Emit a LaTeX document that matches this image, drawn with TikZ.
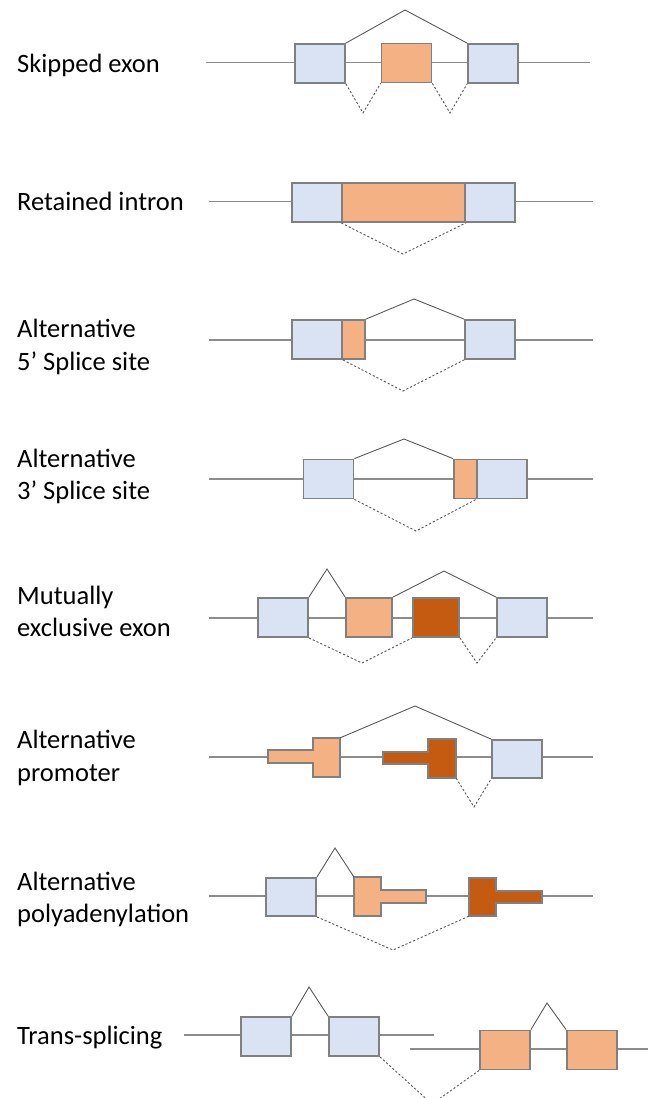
\documentclass[tikz,border=0pt]{standalone}
\usepackage{fontspec}
\setmainfont{Carlito}
\begin{document}
\begin{tikzpicture}[x=1pt,y=-1pt,
  label/.style={anchor=base west,inner sep=0pt,font=\fontsize{26.5}{32}\selectfont},
  exon/.style={draw=exonedge,line width=1.8pt,minimum width=50pt,minimum height=39pt,inner sep=0pt,anchor=center},
  constexon/.style={exon,fill=constblue},
  altexon/.style={exon,fill=altorange},
  altexondark/.style={exon,fill=altdark},
  intron/.style={draw=intronline,line width=1.3pt},
  incl/.style={draw=joinline,line width=0.9pt},
  excl/.style={draw=joinline,line width=0.9pt,dash pattern=on 2.2pt off 2pt},
  tshape/.style={draw=exonedge,line width=1.8pt,line join=miter},
  anchorbox/.style={draw=none,fill=none,inner sep=0pt,anchor=center}
]
\definecolor{constblue}{HTML}{DAE3F3}
\definecolor{altorange}{HTML}{F4B183}
\definecolor{altdark}{HTML}{C55A11}
\definecolor{exonedge}{HTML}{808080}
\definecolor{intronline}{HTML}{8C8C8C}
\definecolor{joinline}{HTML}{595959}

\useasboundingbox (0,0) rectangle (648,1098);
\clip (0,0) rectangle (648,1098);

% ---------- labels ----------
\node[label] (lskip) at (17,72) {Skipped exon};
\node[label] (lret) at (17,210) {Retained intron};
\node[label] (lfiveA) at (17,337) {Alternative};
\node[label] (lfiveB) at (17,370) {5’ Splice site};
\node[label] (lthreeA) at (17,467) {Alternative};
\node[label] (lthreeB) at (17,499) {3’ Splice site};
\node[label] (lmutA) at (17,604) {Mutually};
\node[label] (lmutB) at (17,636) {exclusive exon};
\node[label] (lpromA) at (17,748) {Alternative};
\node[label] (lpromB) at (17,781) {promoter};
\node[label] (lpolyA) at (17,890) {Alternative};
\node[label] (lpolyB) at (17,922) {polyadenylation};
\node[label] (ltrans) at (17,1044) {Trans-splicing};

% ---------- skipped exon ----------
\coordinate (s0) at (206,62.5);
\coordinate (s9) at (590,62.5);
\draw[intron] (s0) -- (s9);
\node[constexon] (s1) at (320,63.5) {};
\node[altexon] (s2) at (406.5,63) {};
\node[constexon] (s3) at (493,63.5) {};
\coordinate (sp) at (405,10);
\coordinate (sv1) at (363,113);
\coordinate (sv2) at (450,113);
\draw[incl] (s1.north east) -- (sp) -- (s3.north west);
\draw[excl] (s1.south east) -- (sv1) -- (s2.south west);
\draw[excl] (s2.south east) -- (sv2) -- (s3.south west);

% ---------- retained intron ----------
\coordinate (r0) at (209,201.5);
\coordinate (r9) at (593,201.5);
\draw[intron] (r0) -- (r9);
\node[constexon] (r1) at (317,202.5) {};
\node[altexon,minimum width=123pt] (r2) at (403.5,202.5) {};
\node[constexon] (r3) at (490,202.5) {};
\coordinate (rv) at (403,254);
\draw[excl] (r2.south west) -- (rv) -- (r2.south east);

% ---------- alternative 5' splice site ----------
\coordinate (a0) at (209,340);
\coordinate (a9) at (593,340);
\draw[intron] (a0) -- (a9);
\node[constexon] (a1) at (317,339.5) {};
\node[altexon,minimum width=23pt] (a2) at (353.5,339.5) {};
\node[constexon] (a3) at (490,339.5) {};
\coordinate (ap) at (414,299);
\coordinate (av) at (403,391);
\draw[incl] (a2.north east) -- (ap) -- (a3.north west);
\draw[excl] (a1.south east) -- (av) -- (a3.south west);

% ---------- alternative 3' splice site ----------
\coordinate (b0) at (209,479);
\coordinate (b9) at (593,479);
\draw[intron] (b0) -- (b9);
\node[constexon] (b1) at (328.5,479) {};
\node[altexon,minimum width=23pt] (b2) at (465.5,479) {};
\node[constexon] (b3) at (502,479) {};
\coordinate (bp) at (404,439);
\coordinate (bv) at (416,531);
\draw[incl] (b1.north east) -- (bp) -- (b2.north west);
\draw[excl] (b1.south east) -- (bv) -- (b3.south west);

% ---------- mutually exclusive exon ----------
\coordinate (m0) at (209,618);
\coordinate (m9) at (593,618);
\draw[intron] (m0) -- (m9);
\node[constexon] (m1) at (283,617.5) {};
\node[altexon,minimum width=46pt] (m2) at (369,617.5) {};
\node[altexondark,minimum width=46pt] (m3) at (436,617.5) {};
\node[constexon] (m4) at (522,617.5) {};
\coordinate (mp1) at (327,569);
\coordinate (mp2) at (444,571);
\coordinate (mv1) at (362,663);
\coordinate (mv2) at (477,663);
\draw[incl] (m1.north east) -- (mp1) -- (m2.north west);
\draw[incl] (m2.north east) -- (mp2) -- (m4.north west);
\draw[excl] (m1.south east) -- (mv1) -- (m3.south west);
\draw[excl] (m3.south east) -- (mv2) -- (m4.south west);

% ---------- alternative promoter ----------
\coordinate (p0) at (209,757);
\coordinate (p9) at (593,757);
\draw[intron] (p0) -- (p9);
\draw[tshape,fill=altorange] (268,750) -- (313,750) -- (313,738) -- (340,738)
  -- (340,777) -- (313,777) -- (313,763) -- (268,763) -- cycle;
\node[anchorbox,minimum width=27pt,minimum height=39pt] (p1) at (326.5,757.5) {};
\draw[tshape,fill=altdark] (383,752) -- (428,752) -- (428,739) -- (456,739)
  -- (456,778) -- (428,778) -- (428,764) -- (383,764) -- cycle;
\node[anchorbox,minimum width=28pt,minimum height=39pt] (p2) at (442,758.5) {};
\node[constexon,minimum height=38pt] (p3) at (517,759) {};
\coordinate (pp) at (415,706);
\coordinate (pv) at (474,807);
\draw[incl] (p1.north east) -- (pp) -- (p3.north west);
\draw[excl] (p2.south east) -- (pv) -- (p3.south west);

% ---------- alternative polyadenylation ----------
\coordinate (y0) at (209,896);
\coordinate (y9) at (593,896);
\draw[intron] (y0) -- (y9);
\node[constexon,minimum height=38pt] (y1) at (291,897) {};
\draw[tshape,fill=altorange] (354,877) -- (381,877) -- (381,890) -- (426,890)
  -- (426,903) -- (381,903) -- (381,916) -- (354,916) -- cycle;
\node[anchorbox,minimum width=27pt,minimum height=39pt] (y2) at (367.5,896.5) {};
\draw[tshape,fill=altdark] (469,878) -- (496,878) -- (496,891) -- (542,891)
  -- (542,903) -- (496,903) -- (496,916) -- (469,916) -- cycle;
\node[anchorbox,minimum width=27pt,minimum height=38pt] (y3) at (482.5,897) {};
\coordinate (yp) at (335,848);
\coordinate (yv) at (393,950);
\draw[incl] (y1.north east) -- (yp) -- (y2.north west);
\draw[excl] (y1.south east) -- (yv) -- (y3.south west);

% ---------- trans-splicing ----------
\coordinate (t0) at (184,1035);
\coordinate (t5) at (434,1035);
\draw[intron] (t0) -- (t5);
\node[constexon] (t1) at (266,1036.5) {};
\node[constexon] (t2) at (354,1036.5) {};
\coordinate (tp1) at (309,987);
\draw[incl] (t1.north east) -- (tp1) -- (t2.north west);
\coordinate (u0) at (410,1049);
\coordinate (u9) at (650,1049);
\draw[intron] (u0) -- (u9);
\node[altexon] (t3) at (505,1050) {};
\node[altexon] (t4) at (592,1050) {};
\coordinate (tp2) at (547,1003);
\draw[incl] (t3.north east) -- (tp2) -- (t4.north west);
\coordinate (tv) at (432,1104);
\draw[excl] (t2.south east) -- (tv) -- (t3.south west);
\end{tikzpicture}
\end{document}
